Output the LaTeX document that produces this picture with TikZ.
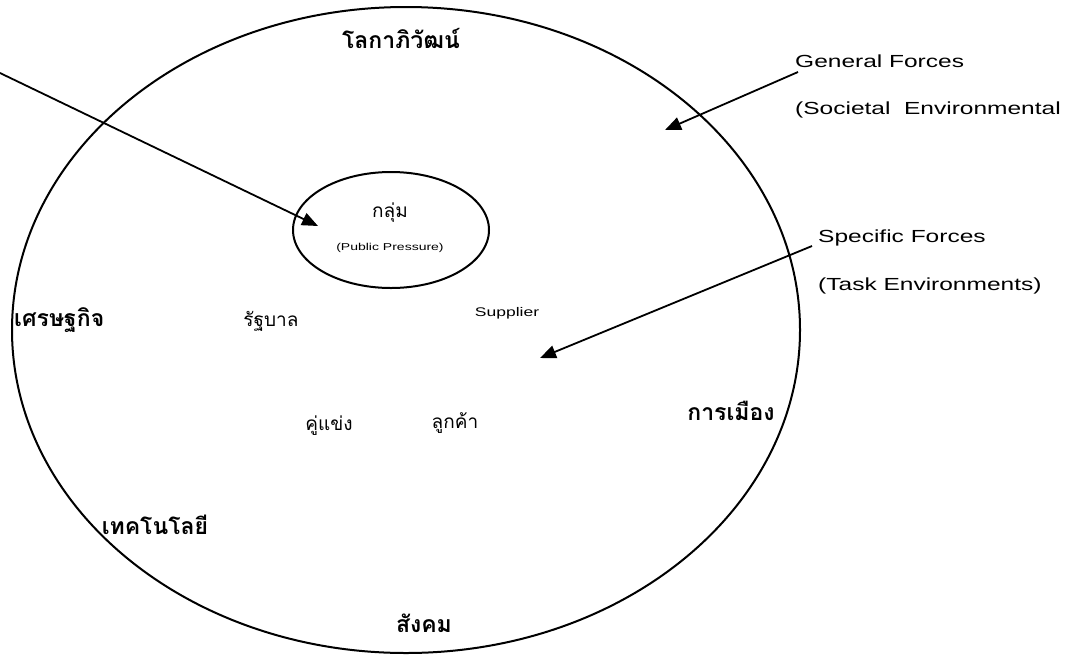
\documentclass[tikz,border=0pt]{standalone}
\usepackage{fontspec}
\setmainfont[FakeStretch=1.4]{Liberation Sans}
\newfontfamily\thaifont[Script=Thai]{Loma}
\usetikzlibrary{arrows.meta,shapes.geometric}
\begin{document}
\begin{tikzpicture}[x=1pt,y=-1pt,
  ring/.style={draw, line width=2pt},
  pointer/.style={line width=1.8pt, -{Triangle[length=16pt,width=13pt]}},
  thaibold/.style={font=\thaifont\bfseries\fontsize{23}{27}\selectfont, inner sep=0pt},
  thainorm/.style={font=\thaifont\fontsize{19}{23}\selectfont, inner sep=0pt},
  latin/.style={font=\fontsize{17.5}{21}\selectfont, inner sep=0pt, anchor=west}]
\useasboundingbox (0,0) rectangle (1075,662);
% ellipses
\draw[ring] (406,330) ellipse [x radius=394, y radius=323];
\node[ring, ellipse, minimum width=196pt, minimum height=116pt, inner sep=0pt] (grp) at (391,230) {};
% labels in ellipse
\node[thainorm] (klum) at (390,213) {กลุ่ม};
\node[font=\fontsize{10}{12}\selectfont, inner sep=0pt] (pp) at (390,248) {(Public Pressure)};
\node[thaibold] (glob) at (401,38) {โลกาภิวัฒน์};
\node[thaibold, anchor=west] (econ) at (14,320) {เศรษฐกิจ};
\node[thainorm] (gov) at (271,321) {รัฐบาล};
\node[font=\fontsize{12.5}{15}\selectfont, inner sep=0pt] (sup) at (507,313) {Supplier};
\node[thaibold] (pol) at (731,411) {การเมือง};
\node[thainorm] (comp) at (329,426) {คู่แข่ง};
\node[thainorm] (cust) at (455,423) {ลูกค้า};
\node[thaibold] (tech) at (155,525) {เทคโนโลยี};
\node[thaibold] (soc) at (424,623) {สังคม};
% right side texts
\node[latin] (gen) at (795,61) {General Forces};
\node[latin] (soc2) at (795,110) {(Societal\ \ Environmental};
\node[latin] (spec) at (818,238) {Specific Forces};
\node[latin] (task) at (818,286) {(Task Environments)};
% arrows
\coordinate (a1s) at (0,73);
\coordinate (a1e) at (318,226);
\coordinate (a2s) at (798,72);
\coordinate (a2e) at (665,130);
\coordinate (a3s) at (812,246);
\coordinate (a3e) at (540,358);
\draw[pointer] (a1s) -- (a1e);
\draw[pointer] (a2s) -- (a2e);
\draw[pointer] (a3s) -- (a3e);
\end{tikzpicture}
\end{document}
